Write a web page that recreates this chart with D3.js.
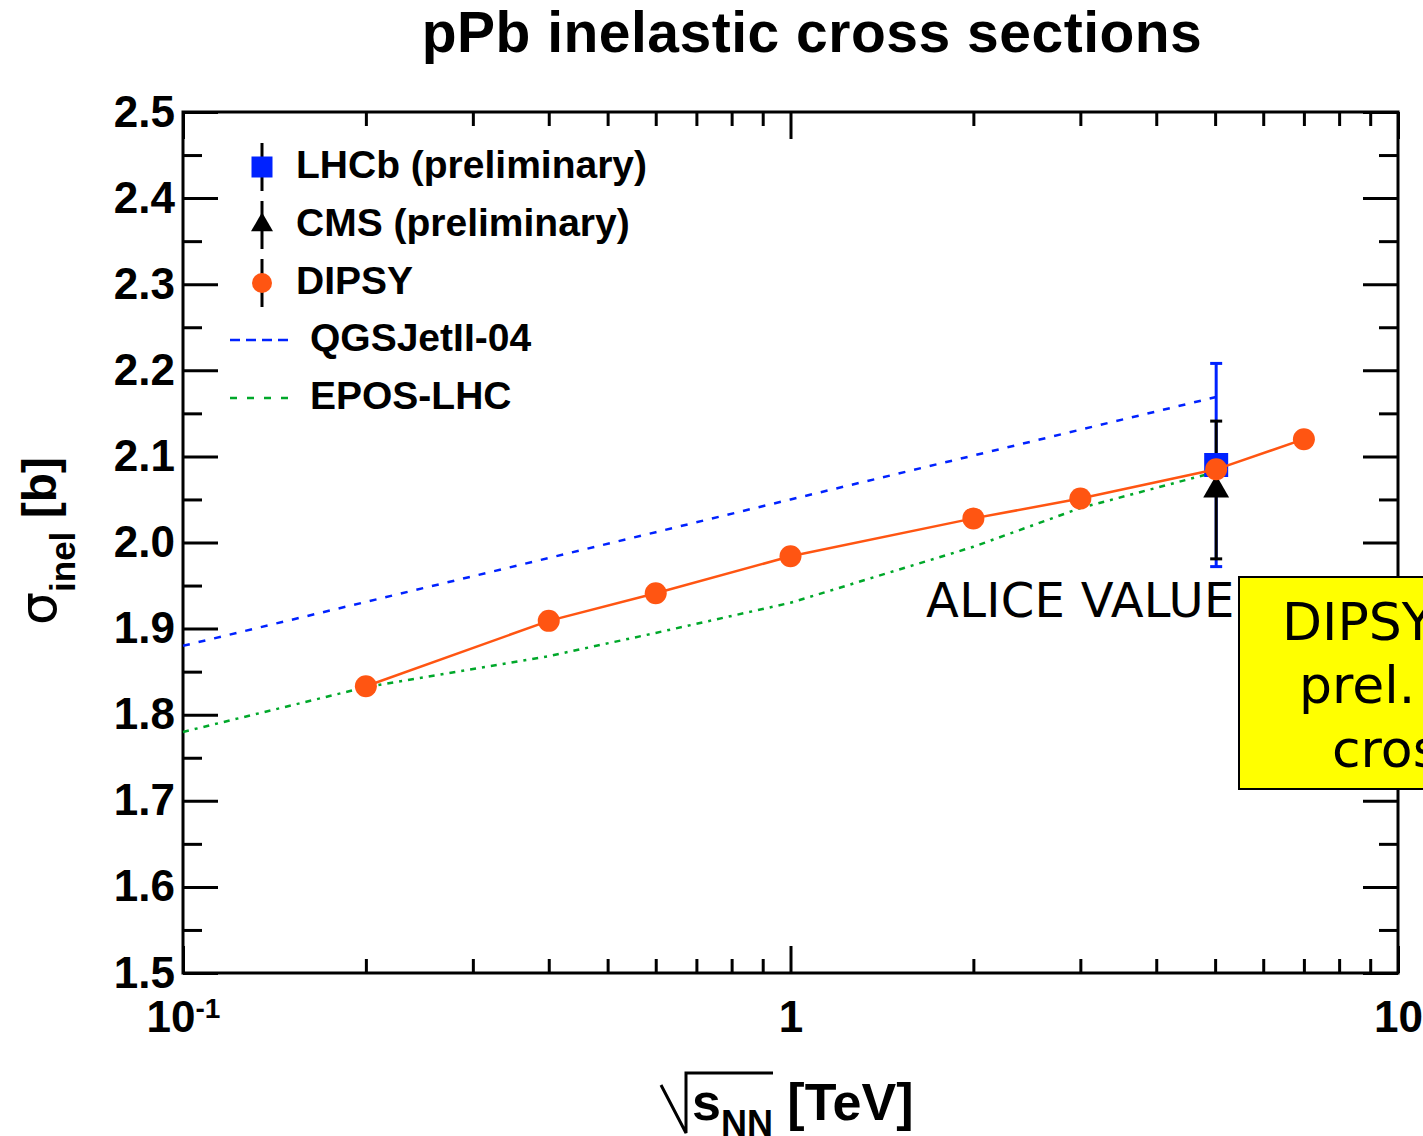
<!DOCTYPE html>
<html>
<head>
<meta charset="utf-8">
<script src="https://cdn.jsdelivr.net/npm/d3@7"></script>
<style>
  body { margin: 0; background: #fff; }
  svg { display: block; }
</style>
</head>
<body>
<svg id="chart" width="1423" height="1136"></svg>
<script>
// values
const dipsyEnergy = [0.2, 0.4, 0.6, 1, 2, 3, 5.02, 7];
const dipsySigma  = [1.833, 1.909, 1.941, 1.984, 2.028, 2.051, 2.085, 2.120];

const modelEnergy = [0.1, 0.2, 0.4, 0.6, 1, 2, 3, 5.02];
const qgsjetSigma = [1.880, 1.931, 1.982, 2.012, 2.050, 2.101, 2.131, 2.169];
const eposSigma   = [1.780, 1.832, 1.868, 1.895, 1.930, 1.995, 2.040, 2.082];

const lhcb = [{ e: 5.02, s: 2.090, err: 0.118 }];
const cms  = [{ e: 5.02, s: 2.061, err: 0.080 }];

const yTicks = [1.5, 1.6, 1.7, 1.8, 1.9, 2.0, 2.1, 2.2, 2.3, 2.4, 2.5];
const yMinor = [1.55, 1.65, 1.75, 1.85, 1.95, 2.05, 2.15, 2.25, 2.35, 2.45];
const xTicks = [0.1, 1, 10];
const xMinor = [0.2, 0.3, 0.4, 0.5, 0.6, 0.7, 0.8, 0.9, 2, 3, 4, 5, 6, 7, 8, 9];

const legendItems = ["LHCb (preliminary)", "CMS (preliminary)", "DIPSY", "QGSJetII-04", "EPOS-LHC"];

const BLUE = "#0022ff", GREEN = "#00a82a", ORANGE = "#ff5512";
const BOLD = "'Liberation Sans', Arial, sans-serif";
const PLAIN = "'DejaVu Sans', Verdana, sans-serif";

const margin = { left: 183, right: 25, top: 112, bottom: 163 };
const width = 1423, height = 1136;
const W = width - margin.left - margin.right;
const H = height - margin.top - margin.bottom;

const svg = d3.select("#chart");
svg.append("rect").attr("width", width).attr("height", height).attr("fill", "#fff");

const x = d3.scaleLog().domain([0.1, 10]).range([0, W]);
const y = d3.scaleLinear().domain([1.5, 2.5]).range([H, 0]);

const g = svg.append("g").attr("transform", `translate(${margin.left},${margin.top})`);

// axes (ticks point inwards on all four sides)
function styleAxis(sel) {
  sel.select(".domain").remove();
  sel.selectAll(".tick line").attr("stroke", "#000").attr("stroke-width", 3);
  sel.selectAll(".tick text").attr("font-family", BOLD).attr("font-weight", "bold")
    .attr("font-size", 44).attr("fill", "#000");
}

g.append("g").call(d3.axisLeft(y).tickValues(yTicks).tickSize(-35).tickPadding(8)
  .tickFormat(d3.format(".1f"))).call(styleAxis);
g.append("g").call(d3.axisLeft(y).tickValues(yMinor).tickSize(-19).tickFormat("")).call(styleAxis);
g.append("g").attr("transform", `translate(${W},0)`)
  .call(d3.axisRight(y).tickValues(yTicks).tickSize(-35).tickFormat("")).call(styleAxis);
g.append("g").attr("transform", `translate(${W},0)`)
  .call(d3.axisRight(y).tickValues(yMinor).tickSize(-19).tickFormat("")).call(styleAxis);

const xAxis = g.append("g").attr("transform", `translate(0,${H})`)
  .call(d3.axisBottom(x).tickValues(xTicks).tickSize(-27).tickPadding(28).tickFormat(d => d === 0.1 ? "" : d3.format("d")(d)))
  .call(styleAxis);
xAxis.selectAll(".tick text").filter(d => d === 0.1).each(function () {
  const t = d3.select(this);
  t.append("tspan").text("10");
  t.append("tspan").attr("font-size", 28).attr("dy", -14).text("-1");
});
g.append("g").attr("transform", `translate(0,${H})`)
  .call(d3.axisBottom(x).tickValues(xMinor).tickSize(-14).tickFormat("")).call(styleAxis);
g.append("g").call(d3.axisTop(x).tickValues(xTicks).tickSize(-27).tickFormat("")).call(styleAxis);
g.append("g").call(d3.axisTop(x).tickValues(xMinor).tickSize(-14).tickFormat("")).call(styleAxis);

// frame
g.append("rect").attr("width", W).attr("height", H)
  .attr("fill", "none").attr("stroke", "#000").attr("stroke-width", 3);

// model curves
const line = d3.line().x(d => x(d[0])).y(d => y(d[1]));
g.append("path").datum(d3.zip(modelEnergy, qgsjetSigma)).attr("d", line)
  .attr("fill", "none").attr("stroke", BLUE).attr("stroke-width", 2.5).attr("stroke-dasharray", "7,9");
g.append("path").datum(d3.zip(modelEnergy, eposSigma)).attr("d", line)
  .attr("fill", "none").attr("stroke", GREEN).attr("stroke-width", 2.5).attr("stroke-dasharray", "6,6,3,6");

// error bars
function errorBar(data, color) {
  const eb = g.append("g").attr("stroke", color).attr("stroke-width", 3);
  data.forEach(d => {
    const cx = x(d.e);
    eb.append("line").attr("x1", cx).attr("x2", cx).attr("y1", y(d.s + d.err)).attr("y2", y(d.s - d.err));
    [d.s + d.err, d.s - d.err].forEach(v => {
      eb.append("line").attr("x1", cx - 6).attr("x2", cx + 6).attr("y1", y(v)).attr("y2", y(v));
    });
  });
}
errorBar(lhcb, BLUE);
errorBar(cms, "#000");

g.selectAll(".lhcb").data(lhcb).enter().append("path")
  .attr("d", d3.symbol(d3.symbolSquare, 576))
  .attr("transform", d => `translate(${x(d.e)},${y(d.s)})`).attr("fill", BLUE);
g.selectAll(".cms").data(cms).enter().append("path")
  .attr("d", d3.symbol(d3.symbolTriangle, 290))
  .attr("transform", d => `translate(${x(d.e)},${y(d.s)})`).attr("fill", "#000");

// DIPSY
const dipsy = d3.zip(dipsyEnergy, dipsySigma);
g.append("path").datum(dipsy).attr("d", line)
  .attr("fill", "none").attr("stroke", ORANGE).attr("stroke-width", 2.5);
g.selectAll(".dipsy").data(dipsy).enter().append("circle")
  .attr("cx", d => x(d[0])).attr("cy", d => y(d[1])).attr("r", 11).attr("fill", ORANGE);

// legend
const leg = svg.append("g");
const legY = [167, 225, 283, 340, 398];
[0, 1, 2].forEach(i => {
  leg.append("line").attr("x1", 262).attr("x2", 262).attr("y1", legY[i] - 24).attr("y2", legY[i] + 24)
    .attr("stroke", "#000").attr("stroke-width", 3);
});
leg.append("path").attr("d", d3.symbol(d3.symbolSquare, 441)).attr("transform", `translate(262,${legY[0]})`).attr("fill", BLUE);
leg.append("path").attr("d", d3.symbol(d3.symbolTriangle, 210)).attr("transform", `translate(262,${legY[1]})`).attr("fill", "#000");
leg.append("circle").attr("cx", 262).attr("cy", legY[2]).attr("r", 10).attr("fill", ORANGE);
leg.append("line").attr("x1", 230).attr("x2", 292).attr("y1", legY[3]).attr("y2", legY[3])
  .attr("stroke", BLUE).attr("stroke-width", 2.5).attr("stroke-dasharray", "10,6");
leg.append("line").attr("x1", 230).attr("x2", 290).attr("y1", legY[4]).attr("y2", legY[4])
  .attr("stroke", GREEN).attr("stroke-width", 2.5).attr("stroke-dasharray", "7,10");
legendItems.forEach((t, i) => {
  leg.append("text").attr("x", i < 3 ? 296 : 310).attr("y", legY[i] + 11)
    .attr("font-family", BOLD).attr("font-weight", "bold").attr("font-size", 39).text(t);
});

// title
svg.append("text").attr("x", 812).attr("y", 52).attr("text-anchor", "middle")
  .attr("font-family", BOLD).attr("font-weight", "bold").attr("font-size", 57)
  .attr("letter-spacing", 0.5).text("pPb inelastic cross sections");

// y label
const yl = svg.append("text").attr("transform", "translate(56,541) rotate(-90)")
  .attr("text-anchor", "middle").attr("font-family", BOLD).attr("font-weight", "bold");
yl.append("tspan").attr("font-family", PLAIN).attr("font-weight", "normal").attr("font-size", 52).text("σ");
yl.append("tspan").attr("font-size", 35).attr("dy", 19).text("inel");
yl.append("tspan").attr("font-size", 48).attr("dy", -19).text(" [b]");

// x label with radical
svg.append("path").attr("d", "M661,1085 L686,1133 L686,1073 L773,1073")
  .attr("fill", "none").attr("stroke", "#000").attr("stroke-width", 3);
const xl = svg.append("text").attr("x", 692).attr("y", 1120)
  .attr("font-family", BOLD).attr("font-weight", "bold");
xl.append("tspan").attr("font-size", 52).text("s");
xl.append("tspan").attr("font-size", 36).attr("dy", 16).text("NN");
xl.append("tspan").attr("font-size", 52).attr("dy", -16).text(" [TeV]");

// annotations
svg.append("text").attr("x", 926).attr("y", 617)
  .attr("font-family", PLAIN).attr("font-size", 48).attr("letter-spacing", 0.3).text("ALICE VALUE");
svg.append("rect").attr("x", 1239).attr("y", 577).attr("width", 220).attr("height", 212)
  .attr("fill", "#ffff00").attr("stroke", "#000").attr("stroke-width", 2);
[["DIPSY vs.", 1282, 640], ["prel. ALICE", 1299, 703], ["cross section", 1332, 767]].forEach(([t, tx, ty]) => {
  svg.append("text").attr("x", tx).attr("y", ty)
    .attr("font-family", PLAIN).attr("font-size", 52).text(t);
});
</script>
</body>
</html>
